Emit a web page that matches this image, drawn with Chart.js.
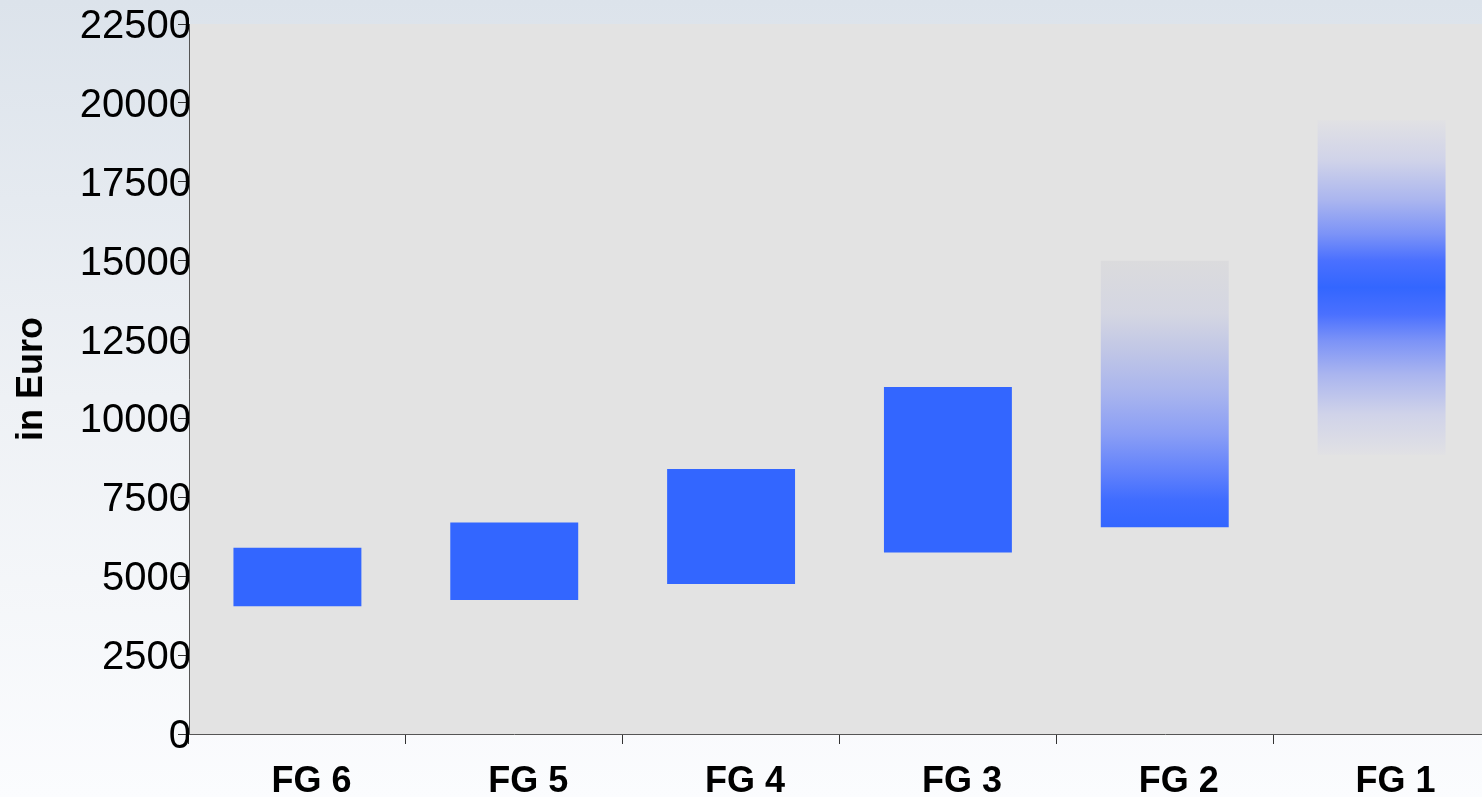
<!DOCTYPE html>
<html>
<head>
<meta charset="utf-8">
<script src="https://cdn.jsdelivr.net/npm/chart.js@4.4.1/dist/chart.umd.min.js"></script>
<style>
  html, body {
    margin: 0;
    padding: 0;
    overflow: hidden;
    width: 1482px;
    height: 797px;
    background: linear-gradient(to bottom, #dce3eb 0%, #eef1f5 50%, #fbfcfe 100%);
  }
  #chartBox {
    position: absolute;
    left: 0;
    top: 0;
    width: 1490px;
    height: 797px;
  }
</style>
</head>
<body>
<div id="chartBox"><canvas id="salaryChart"></canvas></div>
<script>
// Chart data
const categories = ['FG 6', 'FG 5', 'FG 4', 'FG 3', 'FG 2', 'FG 1'];
const lowValues = [4050, 4250, 4750, 5750, 6550, 8850];
const highValues = [5900, 6700, 8400, 11000, 15000, 19450];
const yTicks = [0, 2500, 5000, 7500, 10000, 12500, 15000, 17500, 20000, 22500];

// how each bar is filled: plain, fading to the top, fading at both ends
const fadeTypes = ['solid', 'solid', 'solid', 'solid', 'up', 'both'];

const blue = '#3366ff';
const fontName = '"Liberation Sans", Arial, sans-serif';

// floating bars [low, high]
let ranges = categories.map(function (c, i) {
    return [lowValues[i], highValues[i]];
});

// gradient fill for the last two bars
function barColor(ctx) {
    let chart = ctx.chart;
    if (!chart.chartArea || !ctx.raw) return blue;
    let type = fadeTypes[ctx.dataIndex];
    if (type === 'solid') return blue;
    let y = chart.scales.y;
    let top = y.getPixelForValue(ctx.raw[1]);
    let bottom = y.getPixelForValue(ctx.raw[0]);
    let g = chart.ctx.createLinearGradient(0, top, 0, bottom);
    if (type === 'up') {
        g.addColorStop(0, 'rgb(219,219,221)');
        g.addColorStop(0.2, 'rgb(212,214,226)');
        g.addColorStop(0.34, 'rgb(192,198,230)');
        g.addColorStop(0.5, 'rgb(168,180,238)');
        g.addColorStop(0.65, 'rgb(138,158,245)');
        g.addColorStop(0.8, 'rgb(95,128,252)');
        g.addColorStop(0.9, 'rgb(63,108,255)');
        g.addColorStop(1, blue);
    } else {
        g.addColorStop(0, 'rgb(225,225,228)');
        g.addColorStop(0.12, 'rgb(208,211,233)');
        g.addColorStop(0.24, 'rgb(170,181,239)');
        g.addColorStop(0.34, 'rgb(124,147,247)');
        g.addColorStop(0.42, 'rgb(74,112,255)');
        g.addColorStop(0.5, blue);
        g.addColorStop(0.58, 'rgb(74,112,255)');
        g.addColorStop(0.66, 'rgb(124,147,247)');
        g.addColorStop(0.76, 'rgb(170,181,239)');
        g.addColorStop(0.88, 'rgb(208,211,233)');
        g.addColorStop(1, 'rgb(225,225,228)');
    }
    return g;
}

// grey plot area behind the bars
const plotBackground = {
    id: 'plotBackground',
    beforeDraw: function (chart) {
        let a = chart.chartArea;
        let c = chart.ctx;
        c.save();
        c.fillStyle = '#e3e3e3';
        c.fillRect(a.left, a.top, a.right - a.left, a.bottom - a.top);
        c.restore();
    }
};

let context = document.getElementById('salaryChart').getContext('2d');

let data = {
    labels: categories,
    datasets: [{
        label: 'Gehalt',
        data: ranges,
        backgroundColor: barColor,
        borderWidth: 0,
        barPercentage: 0.59,
        categoryPercentage: 1
    }]
};

let options = {
    responsive: true,
    maintainAspectRatio: false,
    animation: false,
    layout: { padding: { top: 24 } },
    plugins: {
        legend: { display: false },
        tooltip: { enabled: false }
    },
    scales: {
        x: {
            grid: {
                offset: true,
                drawOnChartArea: false,
                drawTicks: true,
                tickLength: 10,
                tickColor: '#333'
            },
            border: { display: true, color: '#555', width: 1 },
            ticks: {
                color: '#000',
                padding: 16,
                labelOffset: 14,
                font: { family: fontName, size: 36, weight: 'bold' }
            },
            afterFit: function (scale) { scale.height = 63; }
        },
        y: {
            min: 0,
            max: 22500,
            afterBuildTicks: function (scale) {
                scale.ticks = yTicks.map(function (v) { return { value: v }; });
            },
            grid: {
                drawOnChartArea: false,
                drawTicks: true,
                tickLength: 11,
                tickColor: '#333'
            },
            border: { display: true, color: '#555', width: 1 },
            ticks: {
                color: '#000',
                padding: -13,
                labelOffset: 3,
                font: { family: fontName, size: 40 },
                callback: function (value) { return String(value); }
            },
            title: {
                display: true,
                text: 'in Euro',
                color: '#000',
                padding: { top: 10, bottom: 0 },
                font: { family: fontName, size: 36, weight: 'bold' }
            },
            afterFit: function (scale) { scale.width = 189; }
        }
    }
};

let config = {
    type: 'bar',
    data: data,
    options: options,
    plugins: [plotBackground]
};

let salaryChart = new Chart(context, config);
</script>
</body>
</html>
